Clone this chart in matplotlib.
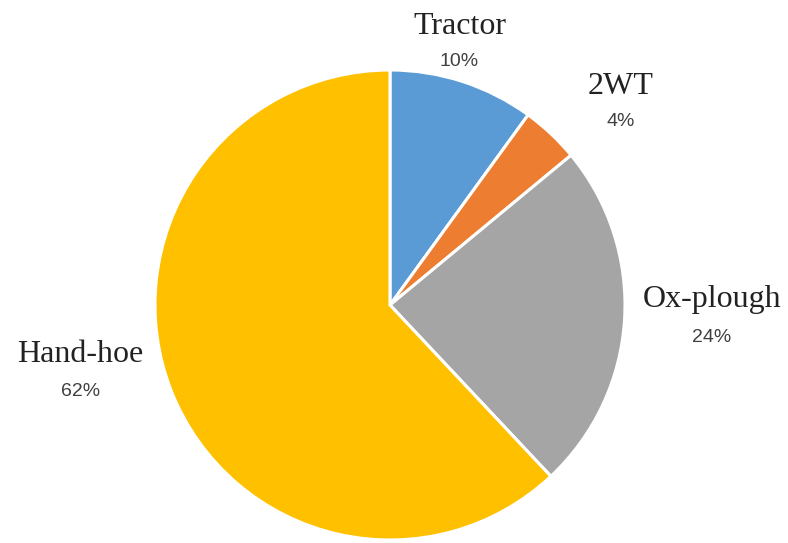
import numpy as np
from matplotlib import pyplot as plt

# Share of tillage methods
labels = ["Tractor", "2WT", "Ox-plough", "Hand-hoe"]
shares = [10, 4, 24, 62]
colors = ["#5B9BD5", "#ED7D31", "#A5A5A5", "#FFC000"]

# label anchor points in pixels (x, y from top) for name and percent
name_pos = [(460, 27), (621, 87), (712, 300), (80, 355)]
pct_pos = [(459, 62), (621, 122), (712, 337), (81, 392)]

W, H = 788, 543
cx, cy, R = 390, 305, 235

fig = plt.figure(figsize=(W / 100, H / 100), dpi=100)
ax = fig.add_axes([0, 0, 1, 1])

ax.pie(shares, colors=colors, startangle=90, counterclock=False,
       radius=R, center=(cx, H - cy),
       wedgeprops=dict(edgecolor="white", linewidth=2.2))

for name, share, (nx, ny), (px, py) in zip(labels, shares, name_pos, pct_pos):
    ax.text(nx, H - ny, name, ha="center", va="center",
            fontsize=23, family="Liberation Serif", color="#222222")
    ax.text(px, H - py, f"{share}%", ha="center", va="center",
            fontsize=14, family="Liberation Sans", color="#404040")

ax.set_xlim(0, W)
ax.set_ylim(0, H)
ax.set_aspect("equal")
ax.axis("off")

plt.savefig("out.png", dpi=100)
